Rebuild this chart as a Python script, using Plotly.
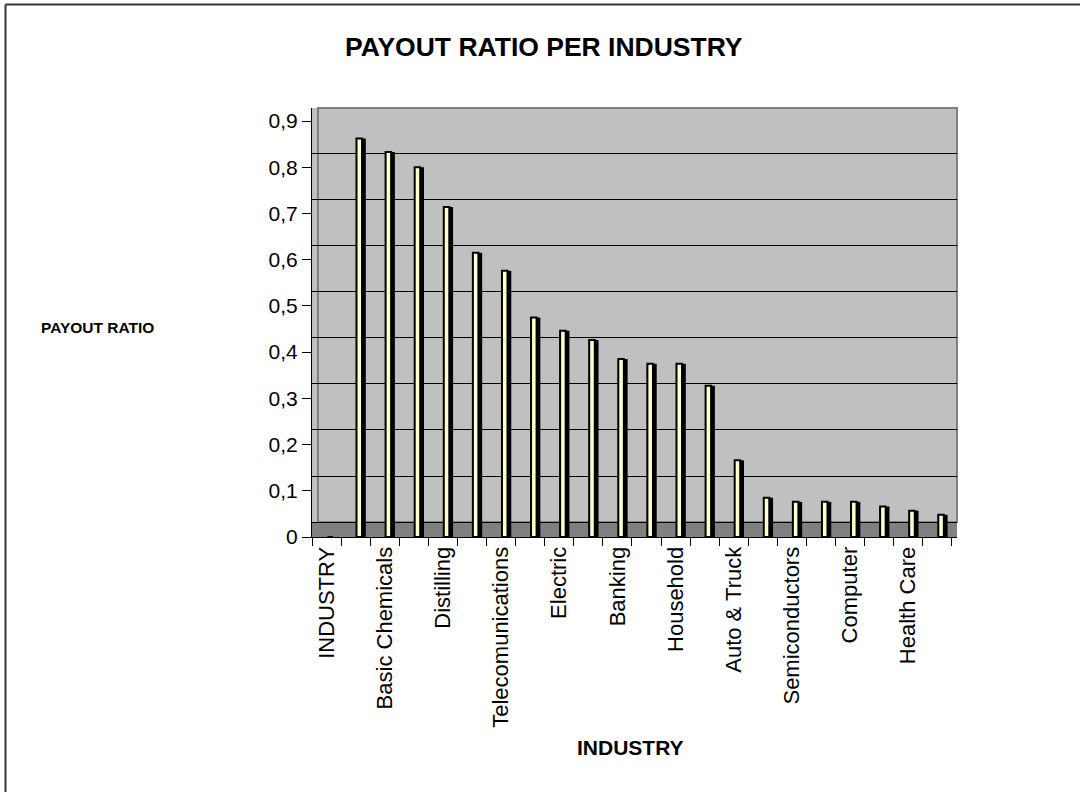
import plotly.graph_objects as go

# Payout ratio by industry (first row is the sheet header, which carries no value)
industries = [
    "INDUSTRY", "Tobacco", "Basic Chemicals", "Natural Gas", "Distilling",
    "Electric Utility", "Telecomunications", "Water Utility", "Electric",
    "Insurance", "Banking", "Paper", "Household", "Machinery",
    "Auto & Truck", "Retail", "Semiconductors", "Software", "Computer",
    "Internet", "Health Care", "Biotechnology",
]
payout_ratio = [
    0.0, 0.862, 0.833, 0.80, 0.714, 0.615, 0.576, 0.475, 0.446, 0.426,
    0.385, 0.375, 0.375, 0.327, 0.166, 0.085, 0.076, 0.076, 0.076,
    0.066, 0.057, 0.048,
]
# only every other industry name is printed under the axis
tick_text = [name if i % 2 == 0 else "" for i, name in enumerate(industries)]

W, H = 1080, 792
PL, PR, PT, PB = 312, 957, 108, 537  # plot area in pixels


def px_x(x):
    return (x - PL) / (PR - PL)


def px_y(y):
    return (PB - y) / (PB - PT)


FONT = "Liberation Sans, Arial, sans-serif"

fig = go.Figure()

# dark depth side of each column
fig.add_trace(go.Bar(
    x=industries, y=payout_ratio, offset=0.01, width=0.34,
    marker=dict(color="#000000", line=dict(width=0)),
    hoverinfo="skip", showlegend=False,
))
# pale front face of each column
fig.add_trace(go.Bar(
    x=industries, y=payout_ratio, offset=0.03, width=0.19,
    marker=dict(color="#FFFFCC", line=dict(color="#000000", width=2)),
    hoverinfo="skip", showlegend=False,
))
# back-wall scale carrying the gridlines
fig.add_trace(go.Scatter(
    x=[industries[0]], y=[None], yaxis="y2", mode="markers",
    hoverinfo="skip", showlegend=False,
))

fig.update_layout(
    width=W, height=H,
    margin=dict(l=PL, r=W - PR, t=PT, b=H - PB, autoexpand=False),
    paper_bgcolor="#FFFFFF",
    plot_bgcolor="#C0C0C0",
    barmode="overlay",
    separators=", ",
    font=dict(family=FONT, color="#000000"),
    xaxis=dict(
        type="category",
        range=[-0.5, len(industries) - 0.5 + 5 / 29],
        tickmode="array", tickvals=industries, ticktext=tick_text,
        tickson="boundaries", ticks="outside", ticklen=8, tickwidth=1,
        tickcolor="#000000", tickangle=-90,
        tickfont=dict(family=FONT, size=22, color="#000000"),
        showline=True, linecolor="#000000", linewidth=1,
        showgrid=False, zeroline=False, fixedrange=True,
    ),
    yaxis=dict(
        range=[0, (PB - PT) / 462.2],
        tickvals=[0, 0.1, 0.2, 0.3, 0.4, 0.5, 0.6, 0.7, 0.8, 0.9],
        ticks="outside", ticklen=9, tickwidth=1, tickcolor="#000000",
        tickfont=dict(family=FONT, size=21, color="#000000"),
        showline=True, linecolor="#000000", linewidth=1,
        showgrid=False, zeroline=False, fixedrange=True,
    ),
    yaxis2=dict(
        overlaying="y", side="right",
        range=[-0.032, 0.898], dtick=0.1,
        showgrid=True, gridcolor="#000000", gridwidth=1,
        showticklabels=False, ticks="", zeroline=False,
        showline=False, fixedrange=True,
    ),
    shapes=[
        # floor of the chart
        dict(type="rect", xref="paper", yref="y2", x0=0, x1=1,
             y0=-0.032, y1=0, fillcolor="#808080", line=dict(width=0),
             layer="below"),
        # outline of the back wall
        dict(type="rect", xref="paper", yref="paper",
             x0=px_x(318), x1=1, y0=px_y(522), y1=1,
             line=dict(color="#808080", width=2), fillcolor="rgba(0,0,0,0)",
             layer="below"),
        # chart frame (top and left edges)
        dict(type="line", xref="paper", yref="paper",
             x0=px_x(5.5), x1=px_x(W), y0=px_y(4.5), y1=px_y(4.5),
             line=dict(color="#333333", width=2)),
        dict(type="line", xref="paper", yref="paper",
             x0=px_x(5.5), x1=px_x(5.5), y0=px_y(4.5), y1=px_y(H),
             line=dict(color="#333333", width=2)),
    ],
    annotations=[
        dict(text="<b>PAYOUT RATIO PER INDUSTRY</b>", xref="paper", yref="paper",
             x=px_x(544), y=px_y(47), xanchor="center", yanchor="middle",
             showarrow=False, font=dict(family=FONT, size=26.5, color="#000000")),
        dict(text="<b>PAYOUT RATIO</b>", xref="paper", yref="paper",
             x=px_x(97.5), y=px_y(327), xanchor="center", yanchor="middle",
             showarrow=False, font=dict(family=FONT, size=15.5, color="#000000")),
        dict(text="<b>INDUSTRY</b>", xref="paper", yref="paper",
             x=px_x(630), y=px_y(747), xanchor="center", yanchor="middle",
             showarrow=False, font=dict(family=FONT, size=21, color="#000000")),
    ],
)

fig.write_html("out.html")
